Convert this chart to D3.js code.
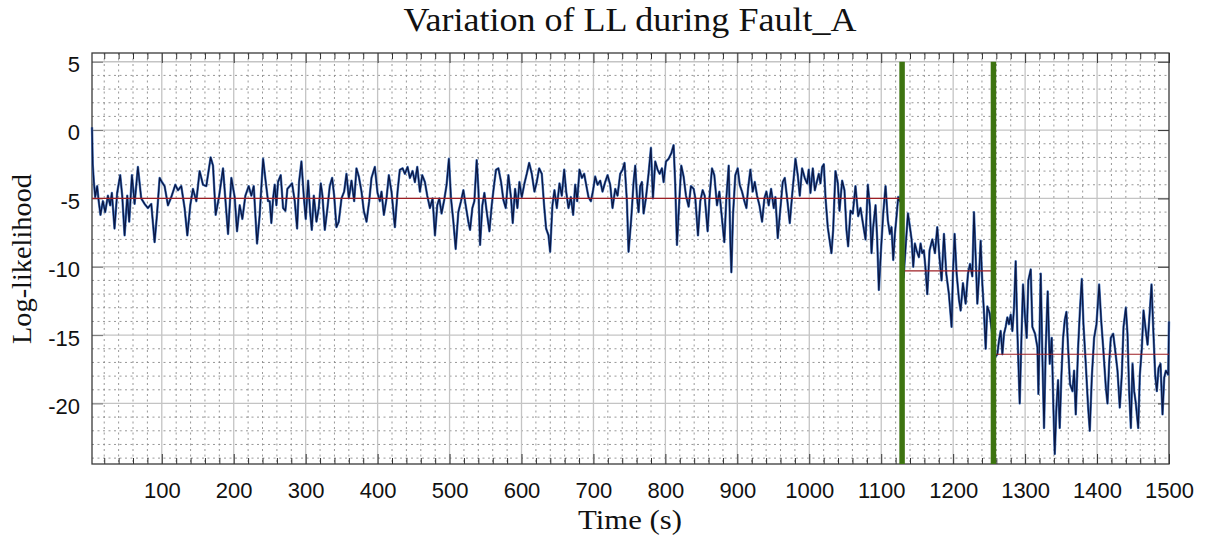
<!DOCTYPE html>
<html>
<head>
<meta charset="utf-8">
<script src="https://cdn.jsdelivr.net/npm/d3@7"></script>
<style>
  body { margin: 0; background: #fff; }
  svg { display: block; }
</style>
</head>
<body>
<div id="chart"></div>
<script>
// log-likelihood samples, split by fault stage
const timeNormal = [3, 4, 5.6, 7.4, 10.2, 12.1, 14.8, 18.1, 21.3, 25.1, 28.3, 30.6, 34.3, 38.0, 42.2, 45.0, 48.3, 52.0, 54.7, 58.5,
  62.2, 66.8, 71.4, 76.1, 80.7, 85.4, 90.0, 93.3, 97.0, 100.2, 103.9, 108.6, 113.2, 118.8, 122.5, 127.1, 131.7, 135.5, 139.6, 143.3,
  148.0, 152.6, 157.3, 161.9, 167.9, 171.2, 174.9, 179.5, 185.1, 188.3, 192.1, 196.7, 201.3, 204.6, 208.3, 212.0, 216.2, 220.8, 224.5, 227.8,
  232.4, 236.1, 240.8, 244.5, 247.7, 250.0, 252.3, 254.7, 257.0, 259.3, 261.6, 265.3, 268.6, 271.8, 274.6, 277.9, 281.1, 284.8, 288.1, 290.8,
  294.1, 297.3, 300.1, 303.4, 306.2, 308.5, 311.3, 315.0, 318.2, 321.0, 323.3, 326.6, 330.3, 333.5, 336.8, 339.6, 342.8, 346.0, 349.8, 353.5,
  356.7, 360.0, 363.7, 367.4, 370.6, 373.9, 377.6, 380.8, 384.6, 388.3, 391.5, 396.1, 399.9, 403.1, 405.4, 408.7, 412.4, 415.6, 419.3, 424.0,
  427.7, 430.9, 434.7, 437.9, 441.6, 444.9, 448.6, 451.8, 455.1, 458.8, 462.0, 465.7, 469.0, 472.7, 476.4, 479.7, 482.9, 485.7, 488.9, 492.6,
  495.9, 499.1, 502.0, 505.3, 508.5, 512.2, 515.9, 519.2, 522.4, 526.1, 528.5, 531.7, 534.5, 537.7, 540.1, 542.4, 545.6, 548.4, 551.7, 555.4,
  558.6, 561.9, 564.6, 567.9, 571.6, 574.8, 578.1, 581.8, 585.5, 587.8, 591.1, 594.3, 597.1, 600.4, 604.1, 607.3, 610.6, 614.3, 618.0, 621.2,
  624.5, 628.2, 631.4, 634.2, 637.5, 639.8, 643.0, 645.8, 649.1, 652.8, 656.0, 659.3, 662.1, 665.3, 668.6, 671.8, 674.6, 677.4, 680.6, 683.9,
  687.1, 689.9, 693.1, 696.4, 699.2, 702.4, 705.7, 709.4, 712.6, 716.3, 719.6, 723.3, 726.5, 730.3, 733.5, 737.2, 740.5, 743.2, 746.5, 748.8,
  752.5, 755.8, 758.1, 760.4, 762.7, 765.0, 767.4, 769.7, 772.9, 776.6, 779.9, 782.7, 785.9, 789.2, 792.0, 795.2, 797.5, 800.8, 804.5, 808.2,
  811.4, 813.7, 816.1, 819.3, 822.1, 825.3, 828.6, 832.3, 835.5, 839.3, 841.6, 845.3, 848.5, 851.8, 854.6, 858.7, 861.5, 864.8, 868.0, 871.7,
  875.0, 878.7, 881.9, 884.7, 888.0, 890.3, 891.7, 894.0, 897.2, 900.5, 903.3, 906.5, 909.8, 912.6, 914.9, 918.1, 921.4, 924.2, 927.4, 930.7,
  934.4, 937.6, 940.4, 943.6, 946.9, 950.6, 952.9, 956.2, 959.9, 963.1, 965.9, 969.2, 972.9, 976.1, 980.8, 984.0, 986.8, 990.0, 993.7, 997.0,
  999.3, 1001.6, 1004.9, 1007.7, 1010.9, 1013.2, 1015.5, 1017.9, 1020.2, 1022.5, 1025.7, 1028.1, 1030.8, 1033.2, 1036.4, 1039.7, 1042.0, 1045.7, 1048.9, 1051.7,
  1054.0, 1057.3, 1060.5, 1064.2, 1068.0, 1071.2, 1074.5, 1078.2, 1081.4, 1084.2, 1086.5, 1088.8, 1092.1, 1094.4, 1096.7, 1100.0, 1102.8, 1106.0, 1109.2, 1112.0,
  1114.3, 1116.7, 1119.0, 1121.3, 1123.6, 1125.5, 1128.0];
const llNormal = [0.2, -2.5, -3.8, -4.9, -4.1, -5.1, -6.2, -5.2, -6.0, -4.8, -5.5, -4.6, -7.2, -4.6, -3.3, -4.8, -7.7, -4.8, -6.7, -3.3,
  -5.4, -2.7, -5.0, -5.4, -5.7, -5.4, -8.2, -6.2, -3.5, -3.8, -4.1, -5.5, -4.9, -4.0, -4.4, -4.1, -5.7, -7.7, -5.5, -4.3,
  -5.2, -3.0, -4.0, -4.1, -2.0, -2.6, -6.2, -4.9, -2.8, -5.0, -7.6, -3.5, -4.9, -7.4, -5.5, -6.5, -4.8, -4.1, -4.8, -4.1,
  -8.3, -6.2, -2.1, -3.8, -5.2, -5.2, -6.8, -5.0, -4.0, -5.5, -3.8, -3.3, -5.7, -5.9, -4.3, -4.1, -3.9, -5.2, -7.2, -3.8,
  -2.3, -4.8, -6.5, -3.7, -6.0, -7.3, -4.8, -6.7, -5.7, -3.9, -4.8, -7.3, -5.7, -4.1, -3.5, -4.8, -7.1, -6.7, -5.0, -4.5,
  -3.2, -5.0, -3.7, -5.2, -2.8, -3.4, -4.5, -5.9, -6.7, -5.2, -3.5, -2.7, -4.6, -5.2, -4.5, -6.2, -5.0, -3.3, -4.5, -7.1,
  -4.5, -2.9, -2.8, -3.2, -2.7, -3.5, -3.0, -3.8, -2.7, -4.5, -3.3, -3.8, -4.8, -5.7, -5.0, -7.7, -5.5, -5.0, -6.1, -5.1,
  -4.0, -2.1, -5.0, -6.7, -8.7, -6.0, -5.2, -4.4, -5.5, -6.7, -7.3, -5.7, -5.2, -2.2, -4.3, -8.4, -5.5, -4.6, -6.0, -7.4,
  -5.5, -4.0, -2.9, -2.8, -3.8, -5.1, -5.7, -3.3, -5.0, -6.8, -4.3, -5.7, -3.8, -4.9, -3.9, -3.2, -2.4, -3.2, -4.5, -3.8,
  -2.8, -3.2, -5.5, -7.2, -7.7, -8.9, -5.5, -4.4, -5.7, -3.9, -4.8, -2.9, -4.5, -5.7, -4.9, -6.2, -4.0, -5.2, -2.9, -3.5,
  -3.2, -4.0, -4.9, -5.2, -4.5, -3.4, -4.0, -3.7, -4.5, -3.8, -3.3, -4.0, -5.7, -4.3, -4.8, -3.2, -2.9, -2.4, -5.2, -8.9,
  -6.5, -3.8, -2.6, -4.8, -6.0, -4.1, -3.8, -6.1, -5.0, -3.2, -1.3, -5.0, -2.3, -2.9, -3.2, -2.8, -3.8, -2.3, -2.1, -1.7,
  -1.1, -4.0, -8.4, -5.2, -2.6, -3.4, -4.8, -5.6, -4.1, -4.3, -5.0, -7.7, -5.2, -4.4, -4.8, -7.4, -4.8, -2.8, -3.3, -5.5,
  -4.5, -6.5, -8.2, -5.0, -2.6, -8.2, -10.4, -6.2, -3.3, -2.8, -4.0, -4.5, -5.2, -5.7, -4.3, -2.9, -4.5, -3.8, -4.8, -5.5,
  -6.7, -5.0, -4.5, -5.5, -4.3, -5.7, -4.9, -7.9, -5.7, -3.8, -3.5, -5.0, -6.8, -4.8, -2.1, -3.3, -4.8, -2.8, -3.5, -3.9,
  -2.9, -4.6, -2.8, -4.4, -3.7, -3.2, -3.9, -2.7, -2.5, -4.9, -7.1, -8.0, -9.0, -7.3, -3.0, -3.9, -5.9, -3.7, -4.4, -7.3,
  -8.5, -5.9, -6.1, -4.1, -6.3, -5.7, -6.8, -8.0, -4.0, -5.6, -9.0, -7.1, -5.5, -8.0, -11.7, -8.5, -6.1, -4.1, -6.6, -7.6,
  -7.1, -9.5, -7.6, -6.3, -4.9, -5.2, -4.6];

const timeStage1 = [1131.0, 1137.1, 1139.9, 1142.2, 1144.5, 1146.8, 1149.1, 1152.4, 1154.7, 1157.0, 1159.3, 1161.7, 1164.0, 1167.2, 1171.0, 1174.7, 1177.9, 1181.2, 1183.9, 1187.2,
  1190.4, 1194.1, 1197.8, 1199.7, 1202.0, 1204.8, 1208.1, 1210.4, 1213.6, 1217.3, 1220.6, 1223.4, 1226.6, 1228.9, 1231.3, 1233.6, 1235.9, 1238.2, 1240.5, 1242.9,
  1245.2, 1247.5, 1250.7, 1253.5];
const llStage1 = [-10.8, -6.1, -7.1, -8.0, -10.0, -8.3, -8.8, -9.3, -8.3, -9.0, -8.8, -10.2, -12.0, -8.8, -8.0, -9.0, -7.1, -9.5, -11.0, -7.6,
  -10.5, -12.0, -14.4, -10.5, -7.6, -10.5, -12.4, -13.2, -11.2, -12.7, -10.5, -9.8, -10.7, -6.0, -9.3, -12.7, -10.7, -8.1, -11.2, -13.4,
  -16.0, -12.9, -13.4, -14.6];

const timeStage2 = [1258.5, 1261.4, 1263.7, 1266.0, 1268.4, 1270.7, 1273.0, 1275.3, 1277.6, 1280.0, 1282.3, 1284.6, 1286.9, 1289.2, 1292.5, 1294.8, 1297.1, 1299.9, 1302.2, 1304.5,
  1307.8, 1310.1, 1313.8, 1317.1, 1318.5, 1321.7, 1324.0, 1326.3, 1328.7, 1331.4, 1334.2, 1337.0, 1339.3, 1341.2, 1343.5, 1345.8, 1348.1, 1350.5, 1352.8, 1355.1,
  1357.4, 1359.7, 1362.5, 1365.8, 1368.1, 1370.4, 1373.7, 1376.4, 1378.8, 1381.1, 1384.3, 1387.6, 1389.9, 1392.7, 1395.9, 1399.2, 1402.9, 1405.7, 1408.5, 1412.2,
  1414.5, 1416.8, 1419.1, 1422.4, 1425.2, 1428.4, 1431.6, 1434.4, 1436.8, 1440.0, 1442.3, 1444.6, 1447.0, 1449.3, 1451.6, 1453.9, 1457.2, 1459.5, 1462.3, 1464.6,
  1467.8, 1470.2, 1472.5, 1475.7, 1478.0, 1480.8, 1483.1, 1485.5, 1488.2, 1491.0, 1493.4, 1495.7, 1498.9, 1500.0];
const llStage2 = [-16.6, -16.4, -15.4, -14.7, -16.4, -14.9, -14.4, -13.7, -14.2, -13.5, -14.7, -13.0, -9.6, -14.7, -20.0, -15.4, -11.3, -13.7, -15.2, -11.0,
  -10.2, -14.4, -14.9, -15.9, -19.3, -10.5, -16.6, -21.8, -15.9, -11.8, -17.1, -15.2, -20.3, -23.7, -20.3, -18.3, -21.8, -17.9, -15.2, -13.9,
  -13.3, -15.9, -18.6, -19.1, -17.6, -20.8, -15.9, -13.0, -10.9, -14.2, -17.1, -20.3, -22.0, -18.1, -15.2, -14.2, -11.3, -13.9, -15.9, -18.8,
  -20.0, -17.1, -15.2, -14.9, -16.1, -17.6, -20.3, -17.9, -14.4, -13.0, -14.9, -19.1, -21.8, -17.1, -19.1, -20.0, -21.8, -17.9, -15.9, -13.2,
  -14.7, -15.7, -13.9, -11.3, -14.4, -17.9, -19.1, -17.4, -17.1, -20.8, -18.1, -17.6, -17.9, -14.0];

// detected change points and the mean LL of each stage
const changePoints = [1129, 1256];
const stageMeans = [-5.0, -10.3, -16.4];

const xTicks = [100, 200, 300, 400, 500, 600, 700, 800, 900, 1000, 1100, 1200, 1300, 1400, 1500];
const yTicks = [5, 0, -5, -10, -15, -20];

const width = 1207, height = 540;
const margin = {top: 53, right: 38, bottom: 76, left: 92};
const innerW = width - margin.left - margin.right;
const innerH = height - margin.top - margin.bottom;

const svg = d3.select("#chart").append("svg")
  .attr("width", width)
  .attr("height", height);

const g = svg.append("g")
  .attr("transform", "translate(" + margin.left + "," + margin.top + ")");

const x = d3.scaleLinear().domain([3, 1500]).range([0, innerW]);
const y = d3.scaleLinear().domain([-24.43, 5.64]).range([innerH, 0]);

// minor grid (dotted)
const xMinor = d3.range(20, 1500, 20).filter(d => d % 100 !== 0);
const yMinor = d3.range(-24, 6, 1).filter(d => d % 5 !== 0);

g.append("g").selectAll("line").data(xMinor).join("line")
  .attr("x1", d => x(d)).attr("x2", d => x(d))
  .attr("y1", 0).attr("y2", innerH)
  .attr("stroke", "#8c8c8c").attr("stroke-width", 0.9)
  .attr("stroke-dasharray", "2,3.5");

g.append("g").selectAll("line").data(yMinor).join("line")
  .attr("x1", 0).attr("x2", innerW)
  .attr("y1", d => y(d)).attr("y2", d => y(d))
  .attr("stroke", "#8c8c8c").attr("stroke-width", 0.9)
  .attr("stroke-dasharray", "2,3.5");

// major grid
g.append("g").selectAll("line").data(xTicks.slice(0, -1)).join("line")
  .attr("x1", d => x(d)).attr("x2", d => x(d))
  .attr("y1", 0).attr("y2", innerH)
  .attr("stroke", "#c4c4c4").attr("stroke-width", 1.3);

g.append("g").selectAll("line").data(yTicks).join("line")
  .attr("x1", 0).attr("x2", innerW)
  .attr("y1", d => y(d)).attr("y2", d => y(d))
  .attr("stroke", "#c4c4c4").attr("stroke-width", 1.3);

// axes: ticks point inward, matlab style
const tickStyle = sel => {
  sel.select(".domain").remove();
  sel.selectAll(".tick line").attr("stroke", "#333");
};

g.append("g")
  .attr("transform", "translate(0," + innerH + ")")
  .call(d3.axisBottom(x).tickValues(xTicks).tickFormat(d3.format("d"))
    .tickSizeInner(-10).tickSizeOuter(0).tickPadding(18))
  .call(tickStyle)
  .call(a => a.selectAll("text").attr("font-family", "Liberation Sans, Arial, sans-serif")
    .attr("font-size", 22).attr("fill", "#111"));

g.append("g")
  .attr("transform", "translate(0," + innerH + ")")
  .call(d3.axisBottom(x).tickValues(xMinor).tickSize(-6).tickFormat(""))
  .call(tickStyle);

g.append("g")
  .call(d3.axisTop(x).tickValues(xTicks).tickSize(-10).tickFormat(""))
  .call(tickStyle);

g.append("g")
  .call(d3.axisTop(x).tickValues(xMinor).tickSize(-6).tickFormat(""))
  .call(tickStyle);

g.append("g")
  .call(d3.axisLeft(y).tickValues(yTicks).tickSizeInner(-11).tickSizeOuter(0).tickPadding(12)
    .tickFormat(d => d < 0 ? "-" + Math.abs(d) : d))
  .call(tickStyle)
  .call(a => a.selectAll(".tick line").attr("stroke", "#777"))
  .call(a => a.selectAll("text").attr("font-family", "Liberation Sans, Arial, sans-serif")
    .attr("font-size", 22).attr("fill", "#111").attr("dy", "0.45em"));

g.append("g")
  .attr("transform", "translate(" + innerW + ",0)")
  .call(d3.axisRight(y).tickValues(yTicks).tickSize(-11).tickFormat(""))
  .call(tickStyle);

// box
g.append("rect")
  .attr("width", innerW).attr("height", innerH)
  .attr("fill", "none").attr("stroke", "#3a3a3a").attr("stroke-width", 1.3);

// LL series
const series = timeNormal.concat(timeStage1, timeStage2)
  .map((t, i) => ({t: t, v: llNormal.concat(llStage1, llStage2)[i]}));

const line = d3.line().x(d => x(d.t)).y(d => y(d.v));

g.append("path")
  .datum(series)
  .attr("d", line)
  .attr("fill", "none")
  .attr("stroke", "#4f7cc0")
  .attr("stroke-width", 2.4)
  .attr("stroke-linejoin", "round");

g.append("path")
  .datum(series)
  .attr("d", line)
  .attr("fill", "none")
  .attr("stroke", "#091745")
  .attr("stroke-width", 1.3)
  .attr("stroke-linejoin", "round");

// stage means
const bounds = [3].concat(changePoints, [1500]);
g.append("g").selectAll("line").data(stageMeans).join("line")
  .attr("x1", (d, i) => x(bounds[i]))
  .attr("x2", (d, i) => x(bounds[i + 1]))
  .attr("y1", d => y(d)).attr("y2", d => y(d))
  .attr("stroke", "#9e1f24").attr("stroke-width", 1.2);

// change points
g.append("g").selectAll("line").data(changePoints).join("line")
  .attr("x1", d => x(d)).attr("x2", d => x(d))
  .attr("y1", y(5)).attr("y2", innerH)
  .attr("stroke", "#3d7410").attr("stroke-width", 5.5);

// labels
svg.append("text")
  .attr("x", 630).attr("y", 31)
  .attr("text-anchor", "middle")
  .attr("font-family", "Liberation Serif, Times New Roman, serif")
  .attr("font-size", 33)
  .attr("textLength", 453).attr("lengthAdjust", "spacingAndGlyphs")
  .attr("fill", "#111")
  .text("Variation of LL during Fault_A");

svg.append("text")
  .attr("x", 630).attr("y", 529)
  .attr("text-anchor", "middle")
  .attr("font-family", "Liberation Serif, Times New Roman, serif")
  .attr("font-size", 28)
  .attr("textLength", 104).attr("lengthAdjust", "spacingAndGlyphs")
  .attr("fill", "#111")
  .text("Time (s)");

svg.append("text")
  .attr("transform", "translate(31,259) rotate(-90)")
  .attr("text-anchor", "middle")
  .attr("font-family", "Liberation Serif, Times New Roman, serif")
  .attr("font-size", 27)
  .attr("textLength", 170).attr("lengthAdjust", "spacingAndGlyphs")
  .attr("fill", "#111")
  .text("Log-likelihood");
</script>
</body>
</html>
